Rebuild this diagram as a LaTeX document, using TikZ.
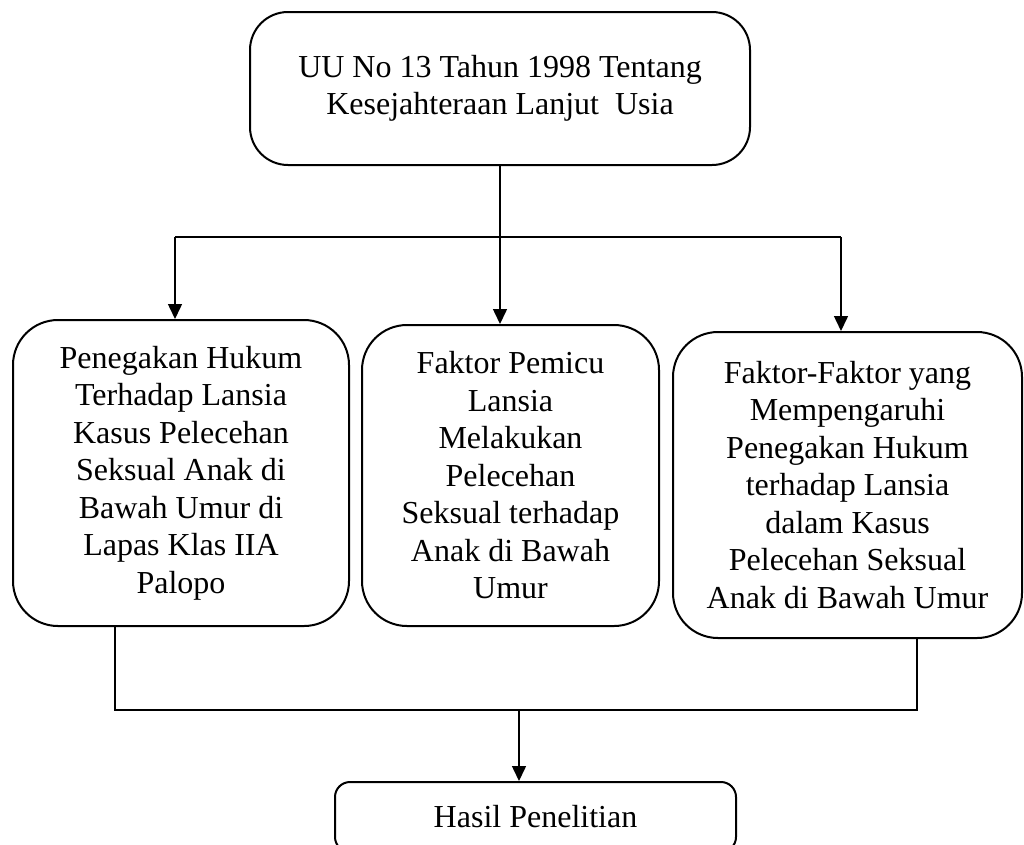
\documentclass[tikz,border=0pt]{standalone}
\usepackage{fontspec}
\setmainfont{Liberation Serif}
\usetikzlibrary{arrows.meta}
\begin{document}
\begin{tikzpicture}[x=1pt,y=-1pt,
  box/.style={draw,line width=2pt,rounded corners=45pt,align=center,
    font=\fontsize{32}{37.5}\selectfont,inner sep=0pt},
  conn/.style={line width=1.5pt},
  arr/.style={conn,-{Triangle[width=14pt,length=15pt]}}]
\useasboundingbox (0,0) rectangle (1024,844);
\clip (0,0) rectangle (1024,844);
\node[box,rounded corners=38pt,minimum width=500pt,minimum height=153pt] (top) at (500,88.5)
  {UU No 13 Tahun 1998 Tentang\\Kesejahteraan Lanjut\ \ Usia};
\node[box,minimum width=336pt,minimum height=306pt] (left) at (181,473)
  {Penegakan Hukum\\Terhadap Lansia\\Kasus Pelecehan\\Seksual Anak di\\Bawah Umur di\\Lapas Klas IIA\\Palopo};
\node[box,minimum width=297pt,minimum height=301pt] (mid) at (510.5,475.5)
  {Faktor Pemicu\\Lansia\\Melakukan\\Pelecehan\\Seksual terhadap\\Anak di Bawah\\Umur};
\node[box,minimum width=349pt,minimum height=306pt] (right) at (847.5,485)
  {Faktor-Faktor yang\\Mempengaruhi\\Penegakan Hukum\\terhadap Lansia\\dalam Kasus\\Pelecehan Seksual\\Anak di Bawah Umur};
\node[box,rounded corners=15pt,minimum width=401pt,minimum height=70pt] (res) at (535.5,817)
  {Hasil Penelitian};
% top branches
\coordinate (bl) at (175,237);
\coordinate (br) at (841,237);
\draw[conn] (bl) -- (br);
\draw[arr] (top.south) -- (top.south |- mid.north);
\draw[arr] (bl) -- (bl |- left.north);
\draw[arr] (br) -- (br |- right.north);
% bottom join
\coordinate (jl) at (115,710);
\coordinate (jr) at (917,710);
\coordinate (ja) at (519,710);
\draw[conn] (jl |- left.south) -- (jl) -- (jr) -- (jr |- right.south);
\draw[arr] (ja) -- (ja |- res.north);
\end{tikzpicture}
\end{document}
